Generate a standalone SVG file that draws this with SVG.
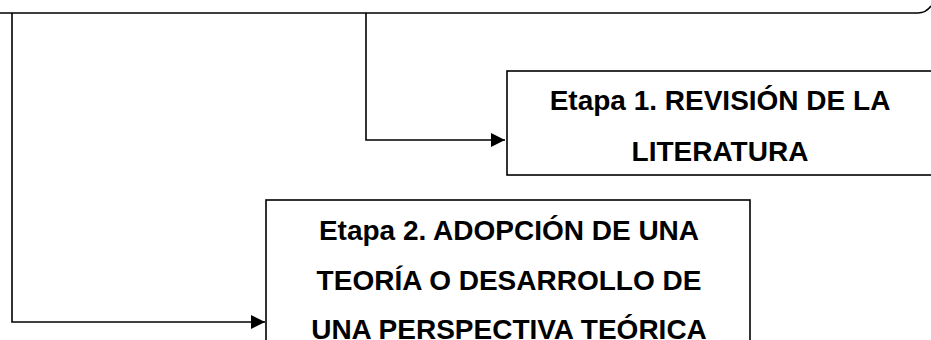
<svg xmlns="http://www.w3.org/2000/svg" width="931" height="340" viewBox="0 0 931 340">
  <style>
    .box { fill: #ffffff; stroke: #000000; stroke-width: 1.6; }
    .lbl { font-family: "Liberation Sans", Arial, sans-serif; font-weight: bold; font-size: 28px; fill: #000000; text-anchor: middle; }
    .con { fill: none; stroke: #000000; stroke-width: 1.6; }
  </style>
  <defs>
    <marker id="arr" viewBox="0 0 14 14" refX="14" refY="7" markerWidth="14" markerHeight="14" markerUnits="userSpaceOnUse" orient="auto">
      <path d="M0,0 L14,7 L0,14 Z" fill="#000000"/>
    </marker>
  </defs>
  <g id="top-frame">
    <path class="con" d="M0,13 H918 Q926,13 931,6"/>
  </g>
  <g id="connectors">
    <path class="con" d="M366,13 V140 H505" marker-end="url(#arr)"/>
    <path class="con" d="M12,13 V322 H265" marker-end="url(#arr)"/>
  </g>
  <g id="etapa1">
    <rect class="box" x="507" y="71" width="430" height="104"/>
    <text class="lbl" x="720" y="110">Etapa 1. REVISIÓN DE LA</text>
    <text class="lbl" x="720" y="161">LITERATURA</text>
  </g>
  <g id="etapa2">
    <rect class="box" x="266" y="200" width="484" height="150"/>
    <text class="lbl" x="509" y="240">Etapa 2. ADOPCIÓN DE UNA</text>
    <text class="lbl" x="509" y="290">TEORÍA O DESARROLLO DE</text>
    <text class="lbl" x="509" y="339">UNA PERSPECTIVA TEÓRICA</text>
  </g>
</svg>
